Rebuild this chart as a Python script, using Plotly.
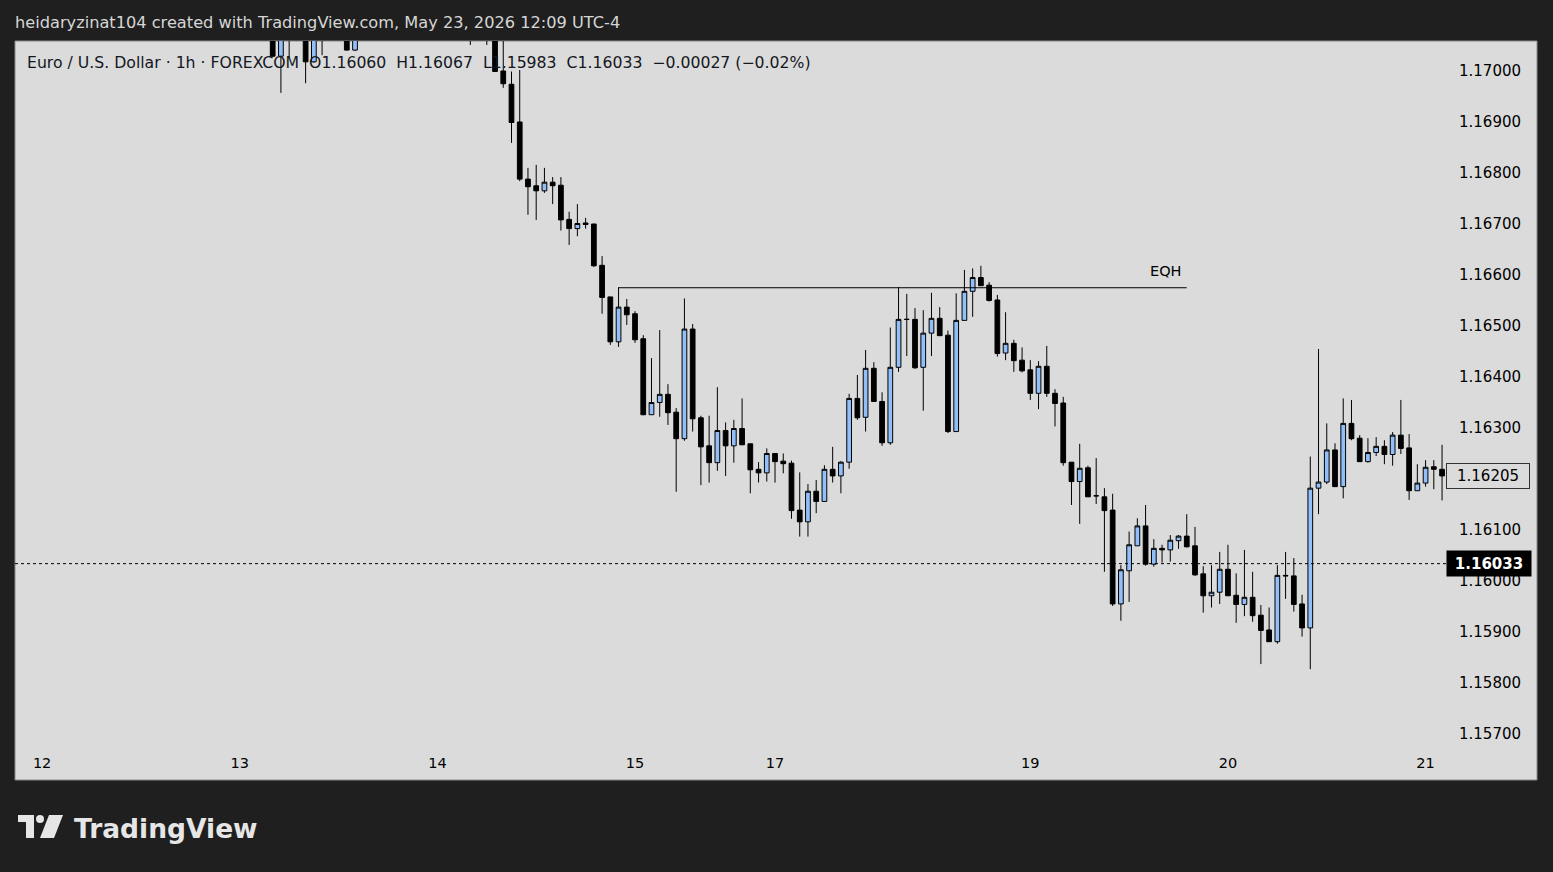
import pandas as pd
import plotly.graph_objects as go

# ---------------- data ----------------
SESSIONS = [("2026-05-12 00:00", "2026-05-15 16:00"),
            ("2026-05-17 17:00", "2026-05-21 02:00")]
FIRST_BAR = "2026-05-13 04:00"

OPEN = [1.17095, 1.17028, 1.17090, 1.17070, 1.17085, 1.17017, 1.17060, 1.17090, 1.17110, 1.17095,
        1.17040, 1.17085, 1.17105, 1.17125, 1.17110, 1.17100, 1.17115, 1.17130, 1.17120, 1.17105,
        1.17095, 1.17110, 1.17100, 1.17085, 1.17080, 1.17075, 1.17085, 1.17070, 1.16999, 1.16973,
        1.16899, 1.16787, 1.16774, 1.16764, 1.16781, 1.16775, 1.16708, 1.16690, 1.16701, 1.16699,
        1.16618, 1.16556, 1.16468, 1.16536, 1.16523, 1.16474, 1.16325, 1.16349, 1.16365, 1.16330,
        1.16278, 1.16493, 1.16319, 1.16264, 1.16231, 1.16294, 1.16264, 1.16298, 1.16268, 1.16218,
        1.16211, 1.16249, 1.16234, 1.16230, 1.16138, 1.16115, 1.16175, 1.16155, 1.16218, 1.16205,
        1.16232, 1.16357, 1.16320, 1.16416, 1.16351, 1.16270, 1.16418, 1.16512, 1.16512, 1.16418,
        1.16485, 1.16514, 1.16481, 1.16292, 1.16510, 1.16567, 1.16594, 1.16579, 1.16550, 1.16446,
        1.16465, 1.16432, 1.16413, 1.16367, 1.16420, 1.16367, 1.16348, 1.16232, 1.16194, 1.16221,
        1.16166, 1.16164, 1.16138, 1.15954, 1.16019, 1.16068, 1.16107, 1.16032, 1.16063, 1.16060,
        1.16078, 1.16087, 1.16068, 1.16013, 1.15970, 1.15977, 1.16022, 1.15971, 1.15953, 1.15967,
        1.15932, 1.15903, 1.15880, 1.16010, 1.16009, 1.15954, 1.15907, 1.16181, 1.16193, 1.16256,
        1.16184, 1.16308, 1.16279, 1.16233, 1.16251, 1.16263, 1.16247, 1.16285, 1.16260, 1.16176,
        1.16191, 1.16223, 1.16218]
HIGH = [1.17125, 1.17100, 1.17110, 1.17105, 1.17100, 1.17095, 1.17110, 1.17130, 1.17125, 1.17115,
        1.17100, 1.17120, 1.17140, 1.17150, 1.17135, 1.17125, 1.17145, 1.17150, 1.17140, 1.17125,
        1.17120, 1.17130, 1.17115, 1.17105, 1.17100, 1.17095, 1.17100, 1.17090, 1.17060, 1.16998,
        1.17001, 1.16809, 1.16815, 1.16809, 1.16791, 1.16791, 1.16723, 1.16738, 1.16711, 1.16699,
        1.16636, 1.16556, 1.16575, 1.16552, 1.16528, 1.16481, 1.16436, 1.16491, 1.16385, 1.16338,
        1.16553, 1.16503, 1.16323, 1.16323, 1.16379, 1.16310, 1.16315, 1.16357, 1.16268, 1.16232,
        1.16259, 1.16249, 1.16249, 1.16235, 1.16212, 1.16189, 1.16197, 1.16226, 1.16262, 1.16234,
        1.16366, 1.16403, 1.16452, 1.16428, 1.16369, 1.16496, 1.16575, 1.16562, 1.16534, 1.16530,
        1.16564, 1.16536, 1.16490, 1.16563, 1.16609, 1.16612, 1.16617, 1.16585, 1.16560, 1.16526,
        1.16472, 1.16457, 1.16432, 1.16430, 1.16460, 1.16375, 1.16360, 1.16232, 1.16268, 1.16225,
        1.16240, 1.16181, 1.16170, 1.16030, 1.16096, 1.16122, 1.16148, 1.16081, 1.16070, 1.16089,
        1.16089, 1.16130, 1.16105, 1.16028, 1.16030, 1.16056, 1.16070, 1.16014, 1.16060, 1.16017,
        1.15952, 1.15947, 1.16030, 1.16056, 1.16044, 1.15972, 1.16243, 1.16454, 1.16308, 1.16269,
        1.16357, 1.16354, 1.16285, 1.16279, 1.16281, 1.16275, 1.16291, 1.16354, 1.16287, 1.16228,
        1.16236, 1.16236, 1.16266]
LOW = [1.17026, 1.16956, 1.17026, 1.17060, 1.16975, 1.17015, 1.17030, 1.17070, 1.17075, 1.17039,
       1.17038, 1.17068, 1.17090, 1.17095, 1.17085, 1.17080, 1.17100, 1.17105, 1.17095, 1.17085,
       1.17075, 1.17090, 1.17070, 1.17065, 1.17050, 1.17062, 1.17050, 1.16997, 1.16966, 1.16858,
       1.16783, 1.16717, 1.16707, 1.16760, 1.16738, 1.16686, 1.16658, 1.16675, 1.16690, 1.16615,
       1.16523, 1.16462, 1.16458, 1.16501, 1.16466, 1.16324, 1.16325, 1.16321, 1.16305, 1.16174,
       1.16274, 1.16292, 1.16187, 1.16192, 1.16215, 1.16205, 1.16231, 1.16266, 1.16171, 1.16192,
       1.16194, 1.16192, 1.16210, 1.16121, 1.16086, 1.16086, 1.16132, 1.16155, 1.16192, 1.16171,
       1.16219, 1.16315, 1.16292, 1.16351, 1.16264, 1.16266, 1.16409, 1.16440, 1.16415, 1.16333,
       1.16440, 1.16480, 1.16289, 1.16292, 1.16510, 1.16517, 1.16578, 1.16547, 1.16439, 1.16432,
       1.16409, 1.16408, 1.16354, 1.16336, 1.16360, 1.16302, 1.16225, 1.16148, 1.16111, 1.16164,
       1.16150, 1.16017, 1.15950, 1.15921, 1.15958, 1.16068, 1.16029, 1.16027, 1.16035, 1.16037,
       1.16062, 1.16065, 1.16009, 1.15937, 1.15947, 1.15954, 1.15970, 1.15917, 1.15930, 1.15919,
       1.15836, 1.15880, 1.15876, 1.15964, 1.15939, 1.15890, 1.15826, 1.16130, 1.16189, 1.16184,
       1.16161, 1.16275, 1.16233, 1.16231, 1.16244, 1.16228, 1.16225, 1.16248, 1.16158, 1.16176,
       1.16184, 1.16179, 1.16157]
CLOSE = [1.17028, 1.17080, 1.17070, 1.17080, 1.17017, 1.17080, 1.17090, 1.17110, 1.17095, 1.17040,
         1.17085, 1.17105, 1.17125, 1.17110, 1.17100, 1.17115, 1.17130, 1.17120, 1.17105, 1.17095,
         1.17110, 1.17100, 1.17085, 1.17080, 1.17075, 1.17085, 1.17070, 1.16998, 1.16974, 1.16898,
         1.16787, 1.16772, 1.16764, 1.16781, 1.16774, 1.16707, 1.16690, 1.16700, 1.16698, 1.16617,
         1.16555, 1.16468, 1.16536, 1.16521, 1.16472, 1.16325, 1.16349, 1.16365, 1.16329, 1.16278,
         1.16493, 1.16317, 1.16262, 1.16231, 1.16294, 1.16264, 1.16298, 1.16266, 1.16217, 1.16211,
         1.16249, 1.16233, 1.16229, 1.16137, 1.16115, 1.16175, 1.16155, 1.16218, 1.16205, 1.16232,
         1.16357, 1.16319, 1.16416, 1.16351, 1.16270, 1.16418, 1.16512, 1.16512, 1.16417, 1.16485,
         1.16514, 1.16480, 1.16292, 1.16510, 1.16567, 1.16594, 1.16578, 1.16549, 1.16445, 1.16465,
         1.16431, 1.16411, 1.16367, 1.16420, 1.16367, 1.16347, 1.16231, 1.16194, 1.16220, 1.16164,
         1.16166, 1.16137, 1.15954, 1.16021, 1.16070, 1.16107, 1.16032, 1.16063, 1.16060, 1.16079,
         1.16087, 1.16066, 1.16011, 1.15970, 1.15977, 1.16022, 1.15970, 1.15953, 1.15967, 1.15931,
         1.15902, 1.15880, 1.16010, 1.16009, 1.15953, 1.15907, 1.16181, 1.16193, 1.16256, 1.16184,
         1.16308, 1.16278, 1.16233, 1.16251, 1.16263, 1.16247, 1.16285, 1.16259, 1.16176, 1.16191,
         1.16222, 1.16218, 1.16205]

DAY_LABELS = ["12", "13", "14", "15", "17", "19", "20", "21"]
LAST_PRICE = 1.16033
MARKED_PRICE = 1.16205
EQH_PRICE = 1.16574
EQH_START = "2026-05-14 22:00"
EQH_END = "2026-05-19 19:00"
EQH_TEXT = "EQH"

HEADER = "heidaryzinat104 created with TradingView.com, May 23, 2026 12:09 UTC-4"
NB = "\u00a0"
LEGEND = ("Euro / U.S. Dollar · 1h · FOREXCOM" + NB * 2 + "O1.16060" + NB * 2 + "H1.16067" + NB * 2 +
          "L1.15983" + NB * 2 + "C1.16033" + NB * 2 + "\u22120.00027 (\u22120.02%)")

# ---------------- time positions (weekend gap removed) ----------------
times = pd.DatetimeIndex([])
for a, b in SESSIONS:
    times = times.append(pd.date_range(a, b, freq="h"))
pos = {t: i for i, t in enumerate(times)}
x0 = pos[pd.Timestamp(FIRST_BAR)]
X = list(range(x0, x0 + len(OPEN)))

tickvals, ticktext = [], []
for lab in DAY_LABELS:
    first = next(i for i, t in enumerate(times) if t.day == int(lab))
    tickvals.append(first)
    ticktext.append(lab)

# ---------------- geometry (pixels) ----------------
W, H = 1553, 872
PL, PR, PT, PB = 15, 1446, 41, 750
BAR0_PX, BAR_PX = 42.1, 8.235
xr0 = -(BAR0_PX - PL) / BAR_PX
xr1 = xr0 + (PR - PL) / BAR_PX
Y_TOP, Y_BOT = 1.170578, 1.156676


def px(xp):
    return (xp - PL) / (PR - PL)


def py(yp):
    return (PB - yp) / (PB - PT)


BG_LIGHT = "#dbdbdb"
BG_DARK = "#1f1f1f"
BLUE = "#90bff9"
FONT = "DejaVu Sans"

fig = go.Figure()
fig.add_trace(go.Candlestick(
    x=X, open=OPEN, high=HIGH, low=LOW, close=CLOSE,
    increasing=dict(fillcolor=BLUE, line=dict(color="#000000", width=1)),
    decreasing=dict(fillcolor="#000000", line=dict(color="#000000", width=1)),
    whiskerwidth=0, showlegend=False, hoverinfo="skip",
))

shapes = [
    dict(type="rect", xref="paper", yref="paper", x0=px(15), x1=px(1537), y0=py(780), y1=py(41),
         fillcolor=BG_LIGHT, line=dict(color="#8a8a8a", width=1), layer="below"),
    dict(type="line", xref="paper", yref="y", x0=0, x1=1, y0=LAST_PRICE, y1=LAST_PRICE,
         line=dict(color="#000000", width=1, dash="dot")),
    dict(type="line", xref="x", yref="y", x0=pos[pd.Timestamp(EQH_START)], x1=pos[pd.Timestamp(EQH_END)],
         y0=EQH_PRICE, y1=EQH_PRICE, line=dict(color="#000000", width=1)),
    # TradingView logo
    dict(type="path", xref="paper", yref="paper", fillcolor="#e6e6e6", line=dict(width=0),
         path="M{},{} L{},{} L{},{} L{},{} L{},{} L{},{} Z".format(
             px(18), py(815), px(34), py(815), px(34), py(838), px(26), py(838), px(26), py(822), px(18), py(822))),
    dict(type="circle", xref="paper", yref="paper", fillcolor="#e6e6e6", line=dict(width=0),
         x0=px(36), x1=px(44), y0=py(823), y1=py(815)),
    dict(type="path", xref="paper", yref="paper", fillcolor="#e6e6e6", line=dict(width=0),
         path="M{},{} L{},{} L{},{} L{},{} Z".format(
             px(49), py(815), px(63), py(815), px(54), py(838), px(40), py(838))),
]

annotations = [
    dict(xref="paper", yref="paper", x=px(13), y=py(22), xanchor="left", yanchor="middle",
         text=HEADER, showarrow=False, font=dict(family=FONT, size=16.2, color="#d6d6d6")),
    dict(xref="paper", yref="paper", x=px(25), y=py(63), xanchor="left", yanchor="middle",
         text=LEGEND, showarrow=False, font=dict(family=FONT, size=15.7, color="#131722")),
    dict(xref="x", yref="y", x=pos[pd.Timestamp(EQH_END)], y=EQH_PRICE, xanchor="right", yanchor="bottom",
         xshift=-4, yshift=7, text=EQH_TEXT, showarrow=False, font=dict(family=FONT, size=14.5, color="#000000")),
    dict(xref="paper", yref="y", x=1, y=MARKED_PRICE, xanchor="left", yanchor="middle", text=f"{MARKED_PRICE:.5f}",
         showarrow=False, width=78, height=20, bgcolor=BG_LIGHT, bordercolor="#333333", borderwidth=1,
         borderpad=2, font=dict(family=FONT, size=15, color="#000000")),
    dict(xref="paper", yref="y", x=1, y=LAST_PRICE, xanchor="left", yanchor="middle", text=f"<b>{LAST_PRICE:.5f}</b>",
         showarrow=False, width=80, height=21, bgcolor="#000000", borderpad=2,
         font=dict(family=FONT, size=15, color="#ffffff")),
    dict(xref="paper", yref="paper", x=px(72), y=py(828), xanchor="left", yanchor="middle",
         text="<b>TradingView</b>", showarrow=False, font=dict(family=FONT, size=26.5, color="#e6e6e6")),
]

fig.update_layout(
    width=W, height=H,
    margin=dict(l=PL, r=W - PR, t=PT, b=H - PB, pad=0),
    paper_bgcolor=BG_DARK, plot_bgcolor=BG_LIGHT,
    boxgap=0.18,
    shapes=shapes, annotations=annotations,
    xaxis=dict(range=[xr0, xr1], tickvals=tickvals, ticktext=ticktext, showgrid=False, zeroline=False,
               showline=False, ticks="", rangeslider=dict(visible=False), ticklabelstandoff=2,
               tickfont=dict(family=FONT, size=14.5, color="#000000")),
    yaxis=dict(range=[Y_BOT, Y_TOP], side="right", dtick=0.001, tickformat=".5f", showgrid=False,
               zeroline=False, showline=False, ticks="", ticklabelstandoff=12,
               tickfont=dict(family=FONT, size=15, color="#000000")),
)

fig.write_html("out.html")
